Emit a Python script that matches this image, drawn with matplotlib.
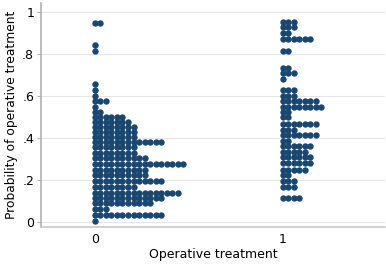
import numpy as np
import matplotlib.pyplot as plt

# dotplot: each row = bin value, count = number of dots in that bin
rows_0 = [0.005, 0.035, 0.060, 0.088, 0.113, 0.140, 0.167, 0.194, 0.222, 0.249,
          0.276, 0.303, 0.330, 0.356, 0.382, 0.406, 0.430, 0.454, 0.477, 0.500,
          0.522, 0.549, 0.576, 0.601, 0.629, 0.656, 0.816, 0.843, 0.950]
counts_0 = [1, 13, 3, 11, 13, 16, 8, 13, 10, 10,
            17, 10, 8, 8, 13, 8, 8, 8, 7, 6,
            2, 1, 3, 1, 1, 1, 1, 1, 2]

rows_1 = [0.113, 0.168, 0.195, 0.222, 0.248, 0.282, 0.308, 0.335, 0.362, 0.387,
          0.414, 0.438, 0.465, 0.499, 0.522, 0.549, 0.576, 0.602, 0.629, 0.680,
          0.711, 0.735, 0.816, 0.871, 0.900, 0.927, 0.951]
counts_1 = [4, 3, 3, 2, 5, 6, 6, 5, 6, 2,
            7, 3, 7, 2, 2, 8, 7, 3, 3, 1,
            3, 2, 2, 6, 2, 3, 3]

groups = [0, 1]
yticks = [0, 0.2, 0.4, 0.6, 0.8, 1.0]
ytick_labels = ['0', '.2', '.4', '.6', '.8', '1']

dx = 0.0293  # horizontal dot step
navy = '#1a476f'

fig = plt.figure(figsize=(3.86, 2.65), dpi=100)
ax = fig.add_axes([41/386, 1 - 227/265, (385 - 41)/386, (227 - 3)/265])

for g, rows, counts in zip(groups, [rows_0, rows_1], [counts_0, counts_1]):
    xs, ys = [], []
    for v, n in zip(rows, counts):
        for i in range(n):
            xs.append(g + i * dx)
            ys.append(v)
    ax.plot(xs, ys, 'o', color=navy, markersize=4.6, markeredgewidth=0, zorder=3)

ax.set_xlim(-0.287, 1.543)
ax.set_ylim(-0.024, 1.043)
ax.set_yticks(yticks)
ax.set_yticklabels(ytick_labels)
ax.set_xticks(groups)
ax.set_xticklabels(['0', '1'])
for y in yticks:
    ax.axhline(y, color='#e6e6e6', lw=0.8, zorder=1)

for s in ['top', 'right']:
    ax.spines[s].set_visible(False)
ax.spines['left'].set_color('#b0b0b0')
ax.spines['bottom'].set_color('#c8c8c8')
ax.spines['left'].set_linewidth(1.2)
ax.spines['bottom'].set_linewidth(1.2)
ax.tick_params(axis='y', length=3, color='#b0b0b0', labelsize=9, pad=2)
ax.tick_params(axis='x', length=0, labelsize=9, pad=4)

ax.set_xlabel('Operative treatment', fontsize=9, labelpad=2)
ax.set_ylabel('Probability of operative treatment', fontsize=8.8, labelpad=3)

fig.savefig('out.png', dpi=100)
